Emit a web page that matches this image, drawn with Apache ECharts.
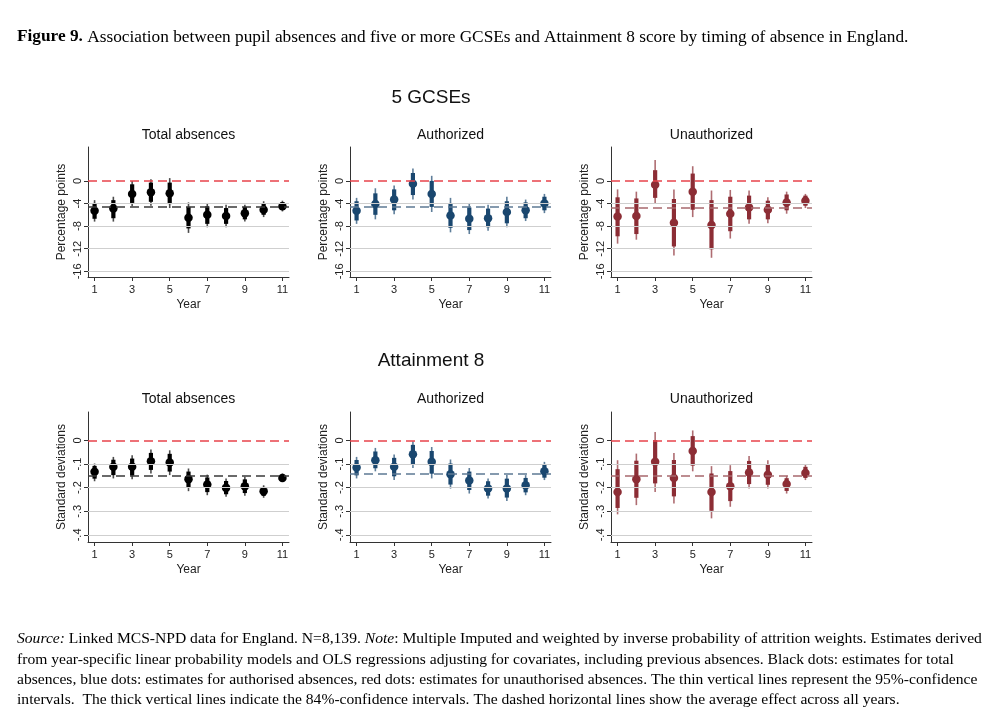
<!DOCTYPE html>
<html>
<head>
<meta charset="utf-8">
<script src="https://cdn.jsdelivr.net/npm/echarts@6/dist/echarts.min.js"></script>
<style>
html,body{margin:0;padding:0;background:#fff;}
#chart{width:1000px;height:718px;}
</style>
</head>
<body>
<div id="chart"></div>
<script>
// ---------------- DATA ----------------
const years = [1, 2, 3, 4, 5, 6, 7, 8, 9, 10, 11];
const xTickLabels = [1, 3, 5, 7, 9, 11];
const gcseTicks = [0, -4, -8, -12, -16];
const a8Ticks = [0, -0.1, -0.2, -0.3, -0.4];

// 5 GCSEs - Total absences
const gcseTotalEst  = [-5.3, -4.9, -2.3, -2.0, -2.2, -6.5, -6.0, -6.2, -5.7, -5.1, -4.5];
const gcseTotalLo95 = [-7.2, -7.2, -4.5, -4.4, -4.8, -9.2, -8.2, -8.2, -7.2, -6.4, -5.4];
const gcseTotalHi95 = [-3.4, -2.8,  0.0,  0.3,  0.5, -3.8, -3.9, -4.2, -4.2, -3.6, -3.5];
const gcseTotalLo84 = [-6.7, -6.6, -3.9, -3.7, -4.1, -8.4, -7.6, -7.6, -6.8, -6.0, -5.1];
const gcseTotalHi84 = [-3.9, -3.4, -0.6, -0.3, -0.3, -4.6, -4.5, -4.8, -4.6, -4.0, -3.8];
const gcseTotalAvg  = -4.5;

// 5 GCSEs - Authorized
const gcseAuthEst  = [-5.3, -4.1, -3.3, -0.5, -2.3, -6.1, -6.7, -6.6, -5.5, -5.2, -4.0];
const gcseAuthLo95 = [-7.6, -6.8, -5.9, -3.3, -5.5, -9.1, -9.4, -8.8, -8.2, -7.1, -5.7];
const gcseAuthHi95 = [-3.0, -1.3, -0.8,  2.2,  0.9, -3.0, -3.9, -4.2, -2.8, -3.3, -2.3];
const gcseAuthLo84 = [-7.0, -6.0, -5.2, -2.5, -4.6, -8.3, -8.7, -8.2, -7.5, -6.6, -5.2];
const gcseAuthHi84 = [-3.6, -2.2, -1.5,  1.4,  0.0, -3.9, -4.7, -4.9, -3.6, -3.8, -2.8];
const gcseAuthAvg  = -4.5;

// 5 GCSEs - Unauthorized
const gcseUnauthEst  = [-6.3, -6.2, -0.7, -7.4, -1.9, -7.8, -5.8, -4.7, -5.1, -3.8, -3.5];
const gcseUnauthLo95 = [-11.1, -10.4, -3.9, -13.2, -6.4, -13.6, -10.2, -7.6, -7.5, -5.8, -4.8];
const gcseUnauthHi95 = [-1.5, -1.9, 3.7, -1.5, 2.6, -1.7, -1.6, -1.7, -2.9, -1.9, -2.3];
const gcseUnauthLo84 = [-9.8, -9.4, -3.0, -11.6, -5.1, -12.1, -8.9, -6.8, -6.8, -5.2, -4.4];
const gcseUnauthHi84 = [-2.9, -3.1, 1.9, -3.2, 1.3, -3.4, -2.8, -2.6, -3.5, -2.4, -2.6];
const gcseUnauthAvg  = -4.8;

// Attainment 8 - Total absences
const a8TotalEst  = [-0.133, -0.112, -0.112, -0.088, -0.094, -0.164, -0.187, -0.201, -0.194, -0.215, -0.159];
const a8TotalLo95 = [-0.173, -0.161, -0.164, -0.140, -0.147, -0.215, -0.232, -0.239, -0.234, -0.243, -0.175];
const a8TotalHi95 = [-0.098, -0.070, -0.063, -0.039, -0.042, -0.119, -0.145, -0.161, -0.154, -0.190, -0.140];
const a8TotalLo84 = [-0.162, -0.147, -0.149, -0.125, -0.132, -0.201, -0.219, -0.228, -0.223, -0.235, -0.170];
const a8TotalHi84 = [-0.108, -0.082, -0.077, -0.053, -0.057, -0.132, -0.157, -0.172, -0.165, -0.197, -0.146];
const a8TotalAvg  = -0.152;

// Attainment 8 - Authorized
const a8AuthEst  = [-0.115, -0.084, -0.112, -0.059, -0.091, -0.143, -0.170, -0.204, -0.204, -0.190, -0.131];
const a8AuthLo95 = [-0.161, -0.131, -0.168, -0.117, -0.161, -0.204, -0.225, -0.246, -0.257, -0.232, -0.168];
const a8AuthHi95 = [-0.070, -0.032, -0.060, -0.004, -0.028, -0.081, -0.117, -0.161, -0.147, -0.147, -0.091];
const a8AuthLo84 = [-0.148, -0.118, -0.152, -0.101, -0.141, -0.187, -0.210, -0.234, -0.242, -0.220, -0.158];
const a8AuthHi84 = [-0.083, -0.047, -0.074, -0.019, -0.045, -0.098, -0.132, -0.173, -0.162, -0.159, -0.102];
const a8AuthAvg  = -0.136;

// Attainment 8 - Unauthorized
const a8UnauthEst  = [-0.218, -0.164, -0.091, -0.159, -0.045, -0.218, -0.194, -0.136, -0.145, -0.185, -0.138];
const a8UnauthLo95 = [-0.313, -0.274, -0.218, -0.267, -0.131, -0.330, -0.281, -0.204, -0.204, -0.225, -0.168];
const a8UnauthHi95 = [-0.084, -0.056, 0.035, -0.053, 0.042, -0.109, -0.105, -0.066, -0.084, -0.150, -0.102];
const a8UnauthLo84 = [-0.286, -0.243, -0.182, -0.237, -0.107, -0.298, -0.257, -0.185, -0.188, -0.214, -0.159];
const a8UnauthHi84 = [-0.122, -0.086, 0.001, -0.083, 0.018, -0.140, -0.130, -0.087, -0.101, -0.160, -0.112];
const a8UnauthAvg  = -0.152;

const rowTitles = ['5 GCSEs', 'Attainment 8'];
const panelTitles = ['Total absences', 'Authorized', 'Unauthorized'];
const yNames = ['Percentage points', 'Standard deviations'];

// ---------------- STYLE ----------------
const SANS = 'Arial, "Liberation Sans", Helvetica, sans-serif';
const SERIF = '"Times New Roman", "Liberation Serif", serif';
const COLORS = ['#000000', '#1a476f', '#8c2d35'];
const AVG_COLORS = ['#3a3a3a', '#5d7a94', '#a8686d'];
const LEFTS = [88, 350, 611];
const TOPS = [147, 412];
const GW = 201, GH = 130;

const panels = [
  {row:0,col:0,est:gcseTotalEst,lo95:gcseTotalLo95,hi95:gcseTotalHi95,lo84:gcseTotalLo84,hi84:gcseTotalHi84,avg:gcseTotalAvg},
  {row:0,col:1,est:gcseAuthEst,lo95:gcseAuthLo95,hi95:gcseAuthHi95,lo84:gcseAuthLo84,hi84:gcseAuthHi84,avg:gcseAuthAvg},
  {row:0,col:2,est:gcseUnauthEst,lo95:gcseUnauthLo95,hi95:gcseUnauthHi95,lo84:gcseUnauthLo84,hi84:gcseUnauthHi84,avg:gcseUnauthAvg},
  {row:1,col:0,est:a8TotalEst,lo95:a8TotalLo95,hi95:a8TotalHi95,lo84:a8TotalLo84,hi84:a8TotalHi84,avg:a8TotalAvg},
  {row:1,col:1,est:a8AuthEst,lo95:a8AuthLo95,hi95:a8AuthHi95,lo84:a8AuthLo84,hi84:a8AuthHi84,avg:a8AuthAvg},
  {row:1,col:2,est:a8UnauthEst,lo95:a8UnauthLo95,hi95:a8UnauthHi95,lo84:a8UnauthLo84,hi84:a8UnauthHi84,avg:a8UnauthAvg}
];

function fmtA8(v){ if (v === 0) return '0'; return String(Math.round(v*10)/10).replace('0.', '.'); }

const grid = [], xAxis = [], yAxis = [], series = [];
panels.forEach((p, i) => {
  const isTop = p.row === 0;
  const yTicks = isTop ? gcseTicks : a8Ticks;
  grid.push({left: LEFTS[p.col], top: TOPS[p.row], width: GW, height: GH});
  xAxis.push({
    gridIndex: i, type: 'value', min: 0.65, max: 11.35,
    name: 'Year', nameLocation: 'middle', nameGap: 22,
    nameTextStyle: {fontFamily: SANS, fontSize: 12, color: '#222'},
    axisLine: {show: true, onZero: false, lineStyle: {color: '#333', width: 1}},
    axisTick: {show: true, length: 4, customValues: xTickLabels, lineStyle: {color: '#333', width: 1}},
    axisLabel: {show: true, customValues: xTickLabels, margin: 7, fontFamily: SANS, fontSize: 11, color: '#222'},
    splitLine: {show: false}
  });
  yAxis.push({
    gridIndex: i, type: 'value',
    min: isTop ? -17 : -0.43, max: isTop ? 6 : 0.12,
    name: yNames[p.row], nameLocation: 'middle', nameRotate: 90, nameGap: 20,
    nameTextStyle: {fontFamily: SANS, fontSize: 12, color: '#222'},
    axisLine: {show: true, onZero: false, lineStyle: {color: '#333', width: 1}},
    axisTick: {show: true, length: 4, customValues: yTicks, lineStyle: {color: '#333', width: 1}},
    axisLabel: {show: true, customValues: yTicks, rotate: 90, margin: 5, fontFamily: SANS, fontSize: 11, color: '#222',
      formatter: isTop ? (v => String(v)) : fmtA8},
    splitLine: {show: false}
  });
  const gridVals = yTicks.filter(v => v !== 0);
  // background reference lines (hidden carrier series)
  series.push({
    type: 'line', xAxisIndex: i, yAxisIndex: i, z: 1, silent: true,
    data: years.map(y => [y, p.avg]), showSymbol: false, symbol: 'none',
    lineStyle: {opacity: 0, width: 0},
    markLine: {
      silent: true, symbol: 'none', label: {show: false}, animation: false,
      data: gridVals.map(v => ({yAxis: v, lineStyle: {color: '#cfcfcf', width: 1, type: 'solid'}}))
        .concat([
          {yAxis: p.avg, lineStyle: {color: AVG_COLORS[p.col], width: 1.5, type: [9, 5]}},
          {yAxis: 0, lineStyle: {color: '#e8434b', width: 1.5, type: [9, 5]}}
        ])
    }
  });
  // confidence intervals
  const color = COLORS[p.col];
  series.push({
    type: 'custom', xAxisIndex: i, yAxisIndex: i, z: 3, silent: true,
    data: years.map((y, k) => [y, p.lo95[k], p.hi95[k], p.lo84[k], p.hi84[k]]),
    encode: {x: 0, y: [1, 2, 3, 4]},
    renderItem: function (params, api) {
      const x = api.value(0);
      const a = api.coord([x, api.value(1)]), b = api.coord([x, api.value(2)]);
      const c = api.coord([x, api.value(3)]), d = api.coord([x, api.value(4)]);
      return {type: 'group', children: [
        {type: 'line', shape: {x1: a[0], y1: a[1], x2: b[0], y2: b[1]}, style: {stroke: color, lineWidth: 1.6, opacity: 0.7}},
        {type: 'line', shape: {x1: c[0], y1: c[1], x2: d[0], y2: d[1]}, style: {stroke: color, lineWidth: 4.2}}
      ]};
    }
  });
  // point estimates
  series.push({
    type: 'scatter', xAxisIndex: i, yAxisIndex: i, z: 4, silent: true,
    data: years.map((y, k) => [y, p.est[k]]),
    symbol: 'circle', symbolSize: 8.5, itemStyle: {color: color, opacity: 1}
  });
});

const graphic = [];
// row titles
graphic.push({type: 'text', x: 431, y: 98, style: {text: rowTitles[0], fontFamily: SANS, fontSize: 19, fill: '#111', textAlign: 'center', textVerticalAlign: 'middle'}});
graphic.push({type: 'text', x: 431, y: 361, style: {text: rowTitles[1], fontFamily: SANS, fontSize: 19, fill: '#111', textAlign: 'center', textVerticalAlign: 'middle'}});
// panel titles
panels.forEach(p => {
  graphic.push({type: 'text', x: LEFTS[p.col] + GW / 2, y: p.row === 0 ? 135 : 399,
    style: {text: panelTitles[p.col], fontFamily: SANS, fontSize: 14, fill: '#111', textAlign: 'center', textVerticalAlign: 'middle'}});
});
// figure caption
graphic.push({type: 'text', x: 17, y: 37, style: {
  text: '{b|Figure 9.} Association between pupil absences and five or more GCSEs and Attainment 8 score by timing of absence in England.',
  fontFamily: SERIF, fontSize: 17.3, fill: '#000', textAlign: 'left', textVerticalAlign: 'middle',
  rich: {b: {fontFamily: SERIF, fontSize: 17.3, fontWeight: 'bold', fill: '#000'}}
}});
// footnote
const noteLines = [
  '{i|Source:} Linked MCS-NPD data for England. N=8,139. {i|Note}: Multiple Imputed and weighted by inverse probability of attrition weights. Estimates derived',
  'from year-specific linear probability models and OLS regressions adjusting for covariates, including previous absences. Black dots: estimates for total',
  'absences, blue dots: estimates for authorised absences, red dots: estimates for unauthorised absences. The thin vertical lines represent the 95%-confidence',
  'intervals.  The thick vertical lines indicate the 84%-confidence intervals. The dashed horizontal lines show the average effect across all years.'
];
const noteY = [639, 660, 680, 700];
noteLines.forEach((t, k) => {
  graphic.push({type: 'text', x: 17, y: noteY[k], style: {
    text: t, fontFamily: SERIF, fontSize: 15.6, fill: '#000', textAlign: 'left', textVerticalAlign: 'middle',
    rich: {i: {fontFamily: SERIF, fontSize: 15.6, fontStyle: 'italic', fill: '#000'}}
  }});
});

const chart = echarts.init(document.getElementById('chart'), null, {renderer: 'canvas'});
chart.setOption({
  backgroundColor: '#ffffff',
  animation: false,
  tooltip: {show: false},
  grid, xAxis, yAxis, series, graphic
});
</script>
</body>
</html>
